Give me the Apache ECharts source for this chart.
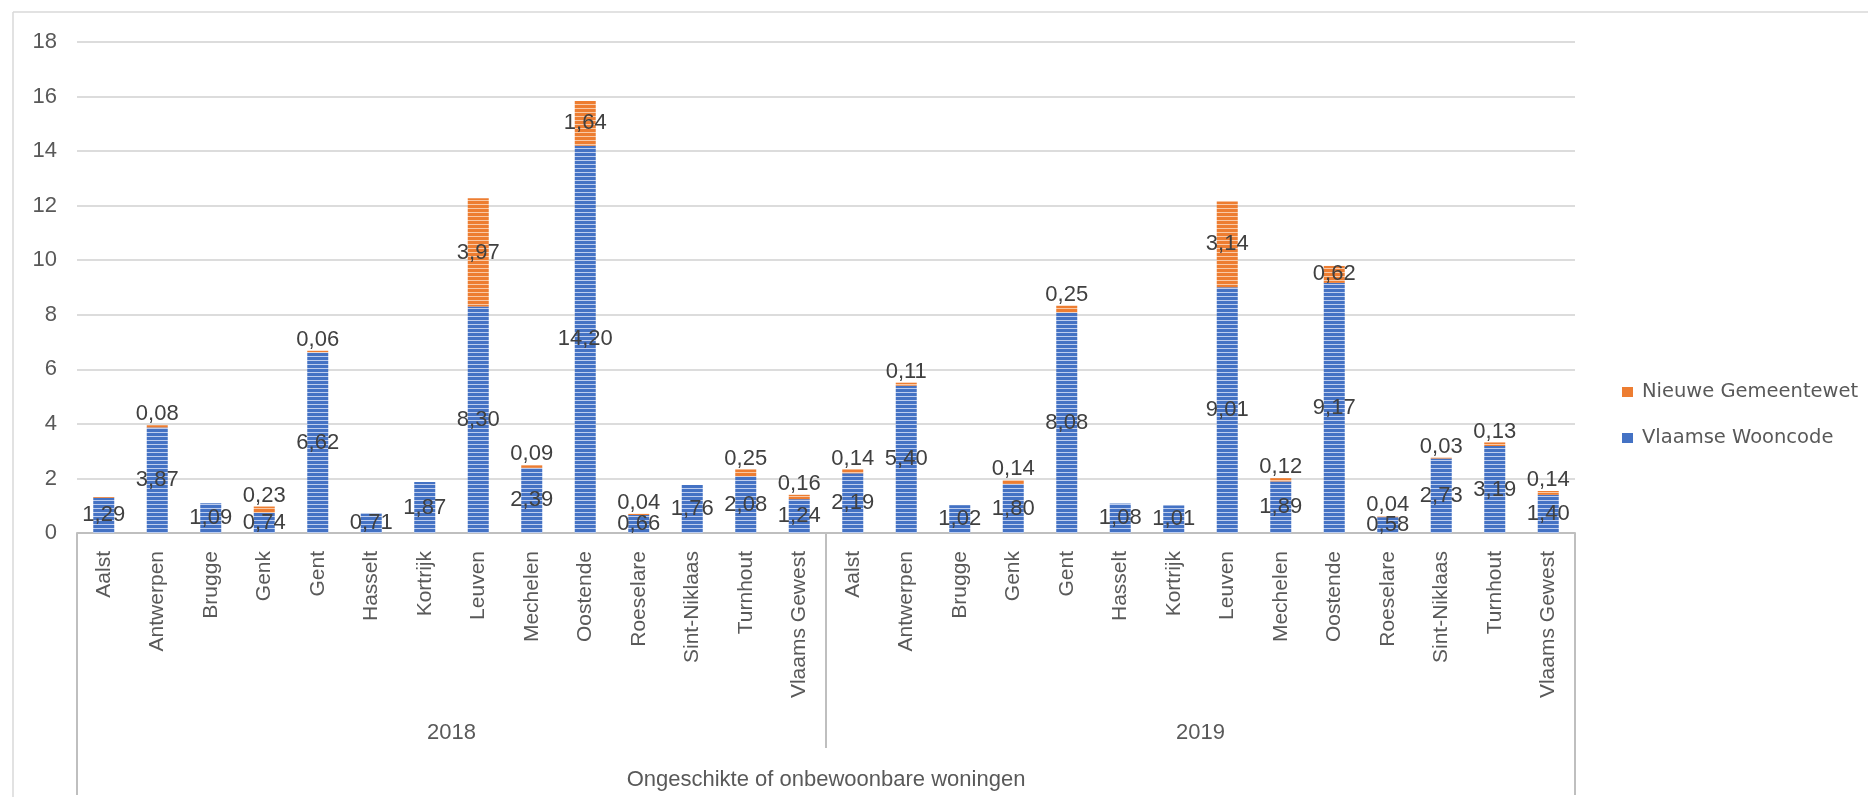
<!DOCTYPE html>
<html>
<head>
<meta charset="utf-8">
<script src="https://cdn.jsdelivr.net/npm/echarts@6/dist/echarts.min.js"></script>
<style>
html,body{margin:0;padding:0;background:#fff;}
#chart{width:1868px;height:801px;}
</style>
</head>
<body>
<div id="chart"></div>
<script>
// ---- data ----
var years = ['2018', '2019'];
var cities = ['Aalst','Antwerpen','Brugge','Genk','Gent','Hasselt','Kortrijk','Leuven','Mechelen','Oostende','Roeselare','Sint-Niklaas','Turnhout','Vlaams Gewest'];
var axisTitle = 'Ongeschikte of onbewoonbare woningen';
var seriesNames = ['Vlaamse Wooncode', 'Nieuwe Gemeentewet'];
var wooncode2018 = [1.29, 3.87, 1.09, 0.74, 6.62, 0.71, 1.87, 8.30, 2.39, 14.20, 0.66, 1.76, 2.08, 1.24];
var wooncode2019 = [2.19, 5.40, 1.02, 1.80, 8.08, 1.08, 1.01, 9.01, 1.89, 9.17, 0.58, 2.73, 3.19, 1.40];
var gemeentewet2018 = [0.03, 0.08, null, 0.23, 0.06, null, null, 3.97, 0.09, 1.64, 0.04, null, 0.25, 0.16];
var gemeentewet2019 = [0.14, 0.11, null, 0.14, 0.25, null, null, 3.14, 0.12, 0.62, 0.04, 0.03, 0.13, 0.14];
var hiddenLabelKeys = ['2018|Aalst'];
var yTicks = {min: 0, max: 18, interval: 2};

// ---- build ----
var categories = [];
years.forEach(function (y) { cities.forEach(function (c) { categories.push(y + '|' + c); }); });
var wooncode = wooncode2018.concat(wooncode2019);
var gemeentewet = gemeentewet2018.concat(gemeentewet2019);

function fmt(v) { return v.toFixed(2).replace('.', ','); }

function stripePattern(base, light) {
  var c = document.createElement('canvas');
  c.width = 4; c.height = 4;
  var ctx = c.getContext('2d');
  ctx.fillStyle = base; ctx.fillRect(0, 0, 4, 4);
  ctx.fillStyle = light; ctx.fillRect(0, 0, 4, 1);
  return c;
}
var blueFill = {image: stripePattern('#4472C4', '#BDCDEE'), repeat: 'repeat'};
var orangeFill = {image: stripePattern('#ED7D31', '#F9C9A6'), repeat: 'repeat'};

var FONT = 'Liberation Sans, Arial, sans-serif';
var labelBase = {show: true, color: '#404040', fontFamily: FONT, fontSize: 22,
  formatter: function (p) { return fmt(p.value); }};

var orangeData = gemeentewet.map(function (v, i) {
  if (v === null) return '-';
  var hidden = hiddenLabelKeys.indexOf(categories[i]) >= 0;
  return {value: v, label: {show: !hidden, position: v >= 0.5 ? 'inside' : 'top', distance: 0}};
});

var chart = echarts.init(document.getElementById('chart'));
chart.setOption({
  animation: false,
  backgroundColor: '#ffffff',
  grid: {left: 77, right: 293, top: 42, bottom: 268, containLabel: false},
  legend: {
    orient: 'vertical', left: 1617, top: 376, itemGap: 24,
    itemWidth: 11, itemHeight: 10, icon: 'rect',
    textStyle: {fontFamily: 'DejaVu Sans, sans-serif', fontSize: 19.5, color: '#595959', lineHeight: 22, padding: [0, 0, 0, 4]},
    data: [
      {name: seriesNames[1], itemStyle: {color: '#ED7D31'}},
      {name: seriesNames[0], itemStyle: {color: '#4472C4'}}
    ]
  },
  xAxis: [
    {
      type: 'category', data: categories, boundaryGap: true,
      axisLine: {show: true, lineStyle: {color: '#bfbfbf', width: 2}},
      axisTick: {show: false},
      axisLabel: {interval: 0, rotate: 90, margin: 18, color: '#595959', fontFamily: FONT, fontSize: 21,
        formatter: function (v) { return v.split('|')[1]; }}
    },
    {
      type: 'category', data: years, boundaryGap: true, position: 'bottom', offset: 0,
      axisLine: {show: false, onZero: false},
      axisTick: {show: true, interval: 0, length: 215, lineStyle: {color: '#bfbfbf', width: 2}},
      axisLabel: {interval: 0, margin: 189, color: '#595959', fontFamily: FONT, fontSize: 22}
    },
    {
      type: 'category', data: [axisTitle], boundaryGap: true, position: 'bottom', offset: 0,
      axisLine: {show: false, onZero: false},
      axisTick: {show: true, interval: 0, length: 262, lineStyle: {color: '#bfbfbf', width: 2}},
      axisLabel: {interval: 0, margin: 236, color: '#595959', fontFamily: FONT, fontSize: 22}
    }
  ],
  yAxis: {
    type: 'value', min: yTicks.min, max: yTicks.max, interval: yTicks.interval,
    axisLine: {show: false}, axisTick: {show: false},
    axisLabel: {margin: 20, color: '#595959', fontFamily: FONT, fontSize: 22},
    splitLine: {lineStyle: {color: '#dcdcdc', width: 2}}
  },
  series: [
    {
      name: seriesNames[0], type: 'bar', stack: 'total', barWidth: 21, xAxisIndex: 0,
      itemStyle: {color: blueFill},
      label: Object.assign({}, labelBase, {position: 'inside'}),
      data: wooncode
    },
    {
      name: seriesNames[1], type: 'bar', stack: 'total', barWidth: 21, xAxisIndex: 0,
      itemStyle: {color: orangeFill},
      label: Object.assign({}, labelBase, {position: 'inside'}),
      data: orangeData
    }
  ],
  graphic: [
    {type: 'line', shape: {x1: 13, y1: 12, x2: 1868, y2: 12}, style: {stroke: '#d9d9d9', lineWidth: 1.5}, silent: true},
    {type: 'line', shape: {x1: 13, y1: 12, x2: 13, y2: 797}, style: {stroke: '#d9d9d9', lineWidth: 1.5}, silent: true}
  ]
});
</script>
</body>
</html>
